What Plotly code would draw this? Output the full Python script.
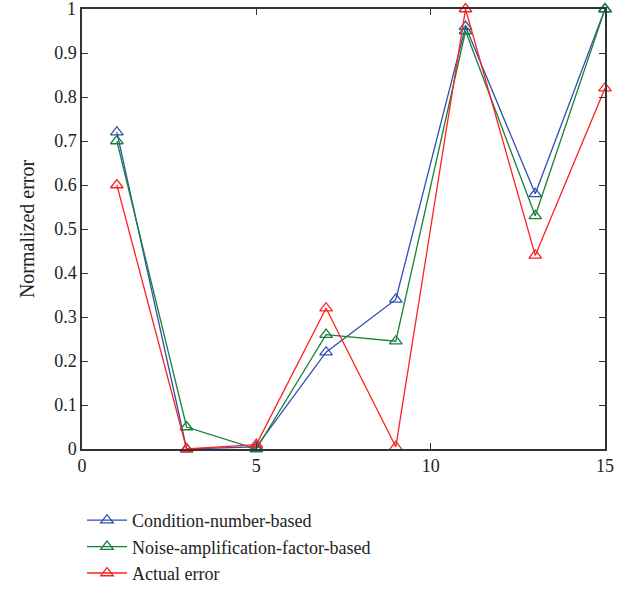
import plotly.graph_objects as go

x_vals = [1, 3, 5, 7, 9, 11, 13, 15]
cond_number = [0.72, 0.0, 0.005, 0.22, 0.34, 0.96, 0.58, 1.0]
noise_amp = [0.70, 0.05, 0.0, 0.26, 0.245, 0.95, 0.53, 1.0]
actual_err = [0.60, 0.0, 0.01, 0.32, 0.005, 1.0, 0.44, 0.82]
names = ["Condition-number-based", "Noise-amplification-factor-based", "Actual error"]
colors = ["#2f4fb0", "#1a8038", "#ff2020"]
y_ticks = [i / 10 for i in range(11)]
y_ticktext = ["0", "0.1", "0.2", "0.3", "0.4", "0.5", "0.6", "0.7", "0.8", "0.9", "1"]

fig = go.Figure()
for ys, nm, c in zip([cond_number, noise_amp, actual_err], names, colors):
    fig.add_trace(go.Scatter(
        x=x_vals, y=ys, name=nm, mode="lines+markers",
        line=dict(color=c, width=1.3),
        marker=dict(symbol="triangle-up-open", size=11, color=c, line=dict(width=1.3, color=c)),
        cliponaxis=False,
    ))

font_family = "Liberation Serif, DejaVu Serif, serif"
axis_common = dict(
    showline=True, linecolor="#333333", linewidth=1.5, mirror="ticks",
    ticks="inside", ticklen=6, tickcolor="#333333", tickwidth=1.2,
    showgrid=False, zeroline=False, automargin=False,
    tickfont=dict(family=font_family, size=18, color="#222222"),
)
fig.update_layout(
    width=632, height=590,
    margin=dict(l=82, r=27, t=9, b=141),
    paper_bgcolor="white", plot_bgcolor="white",
    font=dict(family=font_family, size=18, color="#222222"),
    xaxis=dict(range=[0, 15], tickvals=[0, 5, 10, 15], **axis_common),
    yaxis=dict(range=[0, 1], tickvals=y_ticks, ticktext=y_ticktext,
               title=dict(text="Normalized error", font=dict(family=font_family, size=20), standoff=14),
               **axis_common),
    legend=dict(x=0.0, y=1 - 502 / 590, xanchor="left", yanchor="top", yref="container",
                font=dict(family=font_family, size=18, color="#222222"),
                tracegroupgap=0, itemwidth=40, bgcolor="rgba(0,0,0,0)"),
    showlegend=True,
)
# top tick label (plotly hides it when it touches the page edge)
fig.add_annotation(x=0, xref="paper", y=y_ticks[-1], yref="y", text=y_ticktext[-1],
                   showarrow=False, xanchor="right", yanchor="middle", xshift=-4,
                   font=dict(family=font_family, size=18, color="#222222"))
fig.write_html("out.html")
